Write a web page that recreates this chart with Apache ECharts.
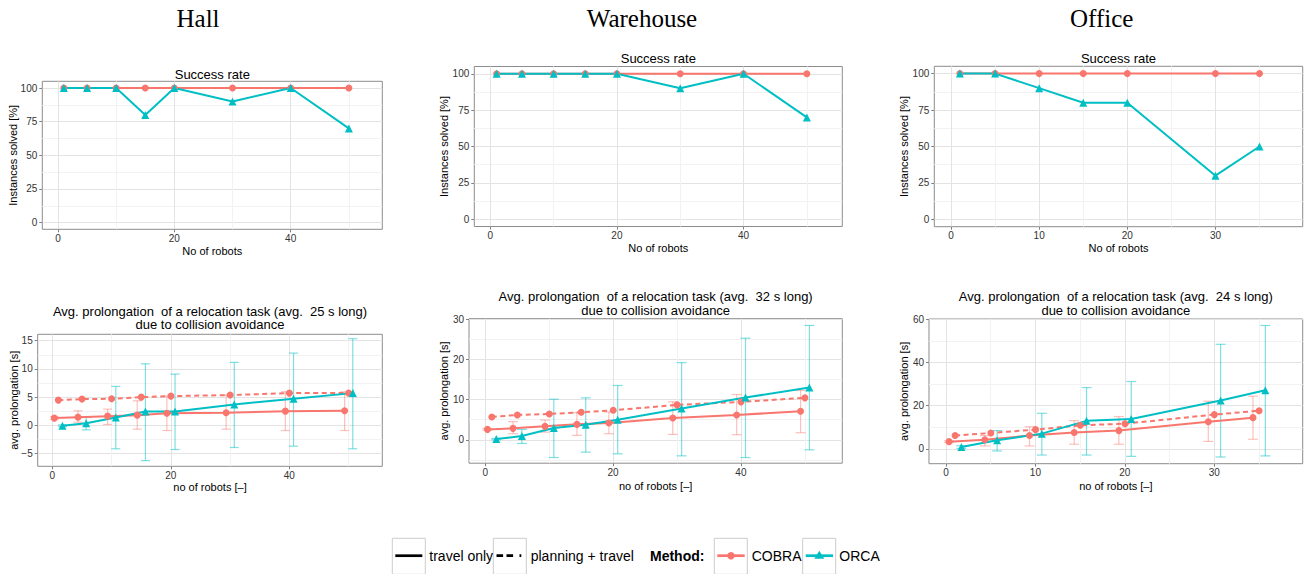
<!DOCTYPE html>
<html><head><meta charset="utf-8">
<script src="https://cdn.jsdelivr.net/npm/echarts@6/dist/echarts.min.js"></script>
<style>html,body{margin:0;padding:0;background:#fff}#c{width:1314px;height:574px}</style>
</head><body><div id="c"></div>
<script>
// ---------- data ----------
const robotsHall = [1, 5, 10, 15, 20, 30, 40, 50];
const robotsWarehouse = [1, 5, 10, 15, 20, 30, 40, 50];
const robotsOffice = [1, 5, 10, 15, 20, 30, 35];

const successCobraHall = [100, 100, 100, 100, 100, 100, 100, 100];
const successOrcaHall = [100, 100, 100, 80, 100, 90, 100, 70];
const successCobraWarehouse = [100, 100, 100, 100, 100, 100, 100, 100];
const successOrcaWarehouse = [100, 100, 100, 100, 100, 90, 100, 70];
const successCobraOffice = [100, 100, 100, 100, 100, 100, 100];
const successOrcaOffice = [100, 100, 90, 80, 80, 30, 50];

const travelCobraHall = [1.25, 1.42, 1.6, 1.78, 2.13, 2.2, 2.49, 2.55];
const planCobraHall = [4.45, 4.63, 4.69, 4.98, 5.16, 5.34, 5.69, 5.69];
const travelOrcaHall = [-0.1, 0.35, 1.36, 2.43, 2.43, 3.68, 4.69, 5.69];
const travelCobraHallLow = [1.0, 0.53, 0.12, -0.71, -0.95, -0.71, -0.95, -0.95];
const travelCobraHallHigh = [1.5, 2.55, 2.85, 4.33, 5.16, 5.34, 5.93, 5.93];
const travelOrcaHallLow = [-0.25, -0.83, -4.2, -6.3, -4.33, -3.97, -3.74, -4.2];
const travelOrcaHallHigh = [0.05, 1.4, 6.88, 10.9, 9.07, 11.15, 12.8, 15.36];

const travelCobraWarehouse = [2.58, 2.83, 3.33, 3.83, 4.17, 5.42, 6.17, 7.08];
const planCobraWarehouse = [5.67, 6.17, 6.42, 6.83, 7.33, 8.67, 9.42, 10.42];
const travelOrcaWarehouse = [0.17, 0.92, 2.92, 3.75, 5.0, 7.75, 10.5, 13.0];
const travelCobraWarehouseLow = [2.4, 1.5, 1.9, 1.08, 1.5, 1.33, 1.25, 1.75];
const travelCobraWarehouseHigh = [2.8, 4.5, 4.9, 6.75, 6.9, 9.42, 11.25, 12.25];
const travelOrcaWarehouseLow = [0.0, -0.92, -4.42, -3.08, -3.5, -4.0, -4.42, -2.5];
const travelOrcaWarehouseHigh = [0.3, 2.58, 10.08, 10.42, 13.5, 19.17, 25.25, 28.42];

const travelCobraOffice = [3.4, 4.3, 6.2, 7.6, 8.5, 12.6, 14.5];
const planCobraOffice = [6.2, 7.4, 8.95, 10.95, 11.7, 15.9, 17.7];
const travelOrcaOffice = [0.9, 4.0, 7.1, 13.0, 13.9, 22.4, 27.2];
const travelCobraOfficeLow = [3.0, 1.4, 1.4, 2.2, 2.2, 3.5, 4.5];
const travelCobraOfficeHigh = [3.8, 6.2, 10.3, 13.1, 15.0, 22.1, 24.4];
const travelOrcaOfficeLow = [0.3, -0.9, -2.8, -2.8, -3.4, -3.7, -3.2];
const travelOrcaOfficeHigh = [1.5, 8.5, 16.5, 28.4, 31.2, 48.4, 57.1];

// tick labels
const successTicks = [0, 25, 50, 75, 100];
const successMinorTicks = [12.5, 37.5, 62.5, 87.5];
const robotTicks50 = [0, 20, 40];
const robotMinorTicks50 = [10, 30, 50];
const robotTicks35 = [0, 10, 20, 30];
const robotMinorTicks35 = [5, 15, 25, 35];
const hallProlongTicks = [-5, 0, 5, 10, 15];
const hallProlongMinorTicks = [-2.5, 2.5, 7.5, 12.5];
const warehouseProlongTicks = [0, 10, 20, 30];
const warehouseProlongMinorTicks = [-5, 5, 15, 25];
const officeProlongTicks = [0, 20, 40, 60];
const officeProlongMinorTicks = [10, 30, 50];

const columnTitles = ['Hall', 'Warehouse', 'Office'];
const legendLabels = ['travel only', 'planning + travel', 'Method:', 'COBRA', 'ORCA'];

// ---------- styling / layout ----------
const C_COBRA = '#F8766D', C_ORCA = '#00BFC4';
const C_COBRA_BAR = 'rgba(248,118,109,0.45)', C_ORCA_BAR = 'rgba(0,191,196,0.5)';
const SANS = '"Liberation Sans", Arial, sans-serif';
const DODGE_TRAVEL_COBRA = -0.66, DODGE_PLAN = 0.02, DODGE_ORCA = 0.72;

const panels = [
  {kind: 'success', grid: {left: 42.3, top: 81.3, width: 340, height: 148}, x: [-2.7, 55.75], y: [-5, 105],
   xt: robotTicks50, xm: robotMinorTicks50, yt: successTicks, ym: successMinorTicks,
   robots: robotsHall, cobra: successCobraHall, orca: successOrcaHall,
   title: ['Success rate'], titleY: [74], xName: 'No of robots', xNameY: 250.7, yName: 'Instances solved [%]', yNameX: 13.3},
  {kind: 'prolong', grid: {left: 37.7, top: 334.3, width: 344.6, height: 132}, x: [-2.46, 55.7], y: [-7.31, 16.14],
   xt: robotTicks50, xm: robotMinorTicks50, yt: hallProlongTicks, ym: hallProlongMinorTicks,
   robots: robotsHall, ct: travelCobraHall, cp: planCobraHall, ot: travelOrcaHall,
   cl: travelCobraHallLow, ch: travelCobraHallHigh, ol: travelOrcaHallLow, oh: travelOrcaHallHigh, cap: 4.5,
   title: ['Avg. prolongation\u00a0 of a relocation task (avg.\u00a0 25 s long)', 'due to collision avoidance'], titleY: [311, 324.3],
   xName: 'no of robots [\u2013]', xNameY: 487.3, yName: 'avg. prolongation [s]', yNameX: 14.2},
  {kind: 'success', grid: {left: 474.3, top: 66.5, width: 368, height: 160}, x: [-2.53, 55.6], y: [-5, 105],
   xt: robotTicks50, xm: robotMinorTicks50, yt: successTicks, ym: successMinorTicks,
   robots: robotsWarehouse, cobra: successCobraWarehouse, orca: successOrcaWarehouse,
   title: ['Success rate'], titleY: [58.3], xName: 'No of robots', xNameY: 248.3, yName: 'Instances solved [%]', yNameX: 444.2},
  {kind: 'prolong', grid: {left: 469, top: 318.7, width: 373.3, height: 144.5}, x: [-2.55, 55.87], y: [-5.83, 30.1],
   xt: robotTicks50, xm: robotMinorTicks50, yt: warehouseProlongTicks, ym: warehouseProlongMinorTicks,
   robots: robotsWarehouse, ct: travelCobraWarehouse, cp: planCobraWarehouse, ot: travelOrcaWarehouse,
   cl: travelCobraWarehouseLow, ch: travelCobraWarehouseHigh, ol: travelOrcaWarehouseLow, oh: travelOrcaWarehouseHigh, cap: 5,
   title: ['Avg. prolongation\u00a0 of a relocation task (avg.\u00a0 32 s long)', 'due to collision avoidance'], titleY: [296.7, 310],
   xName: 'no of robots [\u2013]', xNameY: 486.3, yName: 'avg. prolongation [s]', yNameX: 444},
  {kind: 'success', grid: {left: 934.3, top: 66.3, width: 368.4, height: 160.4}, x: [-1.9, 39.9], y: [-5, 105],
   xt: robotTicks35, xm: robotMinorTicks35, yt: successTicks, ym: successMinorTicks,
   robots: robotsOffice, cobra: successCobraOffice, orca: successOrcaOffice,
   title: ['Success rate'], titleY: [58], xName: 'No of robots', xNameY: 248.3, yName: 'Instances solved [%]', yNameX: 904.2},
  {kind: 'prolong', grid: {left: 929, top: 319, width: 373.7, height: 144.7}, x: [-1.9, 39.9], y: [-6.8, 60.1],
   xt: robotTicks35, xm: robotMinorTicks35, yt: officeProlongTicks, ym: officeProlongMinorTicks,
   robots: robotsOffice, ct: travelCobraOffice, cp: planCobraOffice, ot: travelOrcaOffice,
   cl: travelCobraOfficeLow, ch: travelCobraOfficeHigh, ol: travelOrcaOfficeLow, oh: travelOrcaOfficeHigh, cap: 5,
   title: ['Avg. prolongation\u00a0 of a relocation task (avg.\u00a0 24 s long)', 'due to collision avoidance'], titleY: [296.7, 310],
   xName: 'no of robots [\u2013]', xNameY: 486.3, yName: 'avg. prolongation [s]', yNameX: 904}
];
const columnTitleX = [198, 642, 1101.7];

// ---------- build option ----------
const grids = [], xAxes = [], yAxes = [], series = [], graphics = [];
const minusFmt = v => String(v).replace('-', '\u2212');

function txt(x, y, text, font, opt) {
  opt = opt || {};
  const align = opt.align || 'center', va = opt.va || 'middle';
  return {type: 'text', x: x, y: y, rotation: opt.rot || 0, silent: true, z: 100,
    style: {text: text, font: font, fill: opt.fill || '#000', align: align, verticalAlign: va,
      textAlign: align, textVerticalAlign: va}};
}

panels.forEach((p, gi) => {
  grids.push(Object.assign({show: true, borderColor: '#8c8c8c', borderWidth: 1, backgroundColor: '#fff',
    containLabel: false, outerBoundsMode: 'none'}, p.grid));
  // minor axes (grid lines only)
  xAxes.push({type: 'value', gridIndex: gi, position: 'top', min: p.x[0], max: p.x[1],
    axisLine: {show: false, onZero: false}, axisLabel: {show: false}, axisTick: {show: false, customValues: p.xm},
    splitLine: {show: true, lineStyle: {color: '#f2f2f2', width: 1}}});
  yAxes.push({type: 'value', gridIndex: gi, position: 'right', min: p.y[0], max: p.y[1],
    axisLine: {show: false, onZero: false}, axisLabel: {show: false}, axisTick: {show: false, customValues: p.ym},
    splitLine: {show: true, lineStyle: {color: '#f2f2f2', width: 1}}});
  // major axes
  xAxes.push({type: 'value', gridIndex: gi, position: 'bottom', min: p.x[0], max: p.x[1],
    axisLine: {show: false, onZero: false},
    axisTick: {show: true, length: 3, customValues: p.xt, lineStyle: {color: '#7f7f7f'}},
    axisLabel: {show: true, customValues: p.xt, margin: 4, fontSize: 10, fontFamily: SANS, color: '#333', formatter: minusFmt},
    splitLine: {show: true, lineStyle: {color: '#e3e3e3', width: 1}}});
  yAxes.push({type: 'value', gridIndex: gi, position: 'left', min: p.y[0], max: p.y[1],
    axisLine: {show: false, onZero: false},
    axisTick: {show: true, length: 3, customValues: p.yt, lineStyle: {color: '#7f7f7f'}},
    axisLabel: {show: true, customValues: p.yt, margin: 5, fontSize: 10, fontFamily: SANS, color: '#333', formatter: minusFmt},
    splitLine: {show: true, lineStyle: {color: '#e3e3e3', width: 1}}});
  const xi = gi * 2 + 1, yi = gi * 2 + 1;

  const line = (name, xs, ys, color, symbol, size, dashed, dx) => ({
    type: 'line', name: name, xAxisIndex: xi, yAxisIndex: yi, animation: false,
    data: xs.map((x, i) => [x + dx, ys[i]]),
    symbol: symbol, symbolSize: size, showSymbol: true,
    itemStyle: {color: color}, clip: false,
    lineStyle: {color: color, width: 2, type: dashed ? [5, 3.5] : 'solid'}, z: 3
  });
  const bars = (xs, lo, hi, color, dx, cap) => ({
    type: 'custom', xAxisIndex: xi, yAxisIndex: yi, animation: false, z: 2,
    data: xs.map((x, i) => [x + dx, lo[i], hi[i]]),
    encode: {x: 0, y: [1, 2]},
    renderItem: (params, api) => {
      const a = api.coord([api.value(0), api.value(1)]);
      const b = api.coord([api.value(0), api.value(2)]);
      const st = {stroke: color, lineWidth: 1.2, fill: null};
      return {type: 'group', children: [
        {type: 'line', shape: {x1: a[0], y1: a[1], x2: b[0], y2: b[1]}, style: st},
        {type: 'line', shape: {x1: a[0] - cap, y1: a[1], x2: a[0] + cap, y2: a[1]}, style: st},
        {type: 'line', shape: {x1: b[0] - cap, y1: b[1], x2: b[0] + cap, y2: b[1]}, style: st}
      ]};
    }
  });

  if (p.kind === 'success') {
    series.push(line('COBRA', p.robots, p.cobra, C_COBRA, 'circle', 7, false, 0));
    series.push(line('ORCA', p.robots, p.orca, C_ORCA, 'triangle', 8, false, 0));
  } else {
    series.push(bars(p.robots, p.cl, p.ch, C_COBRA_BAR, DODGE_TRAVEL_COBRA, p.cap));
    series.push(bars(p.robots, p.ol, p.oh, C_ORCA_BAR, DODGE_ORCA, p.cap));
    series.push(line('COBRA travel only', p.robots, p.ct, C_COBRA, 'circle', 7, false, DODGE_TRAVEL_COBRA));
    series.push(line('COBRA planning + travel', p.robots, p.cp, C_COBRA, 'circle', 7, true, DODGE_PLAN));
    series.push(line('ORCA travel only', p.robots, p.ot, C_ORCA, 'triangle', 8, false, DODGE_ORCA));
  }

  const cx = p.grid.left + p.grid.width / 2;
  const cy = p.grid.top + p.grid.height / 2;
  p.title.forEach((t, k) => graphics.push(txt(cx, p.titleY[k], t, '13px ' + SANS)));
  graphics.push(txt(cx, p.xNameY, p.xName, '11px ' + SANS));
  graphics.push(txt(p.yNameX, cy, p.yName, '11px ' + SANS, {rot: Math.PI / 2}));
});

columnTitles.forEach((t, i) => graphics.push(txt(columnTitleX[i], 18.5, t, '25px "Liberation Serif", "Times New Roman", serif')));

// legend (drawn as graphic keys)
const LY = 555.7, keyTop = 538.3, keyH = 36;
const keys = [{x: 392.3}, {x: 493.3}, {x: 714.3}, {x: 802.7}];
keys.forEach(k => graphics.push({type: 'rect', silent: true, z: 90,
  shape: {x: k.x, y: keyTop, width: 33, height: keyH}, style: {fill: '#fff', stroke: '#cccccc', lineWidth: 1}}));
graphics.push({type: 'line', silent: true, z: 91, shape: {x1: 395.3, y1: LY, x2: 422.3, y2: LY}, style: {stroke: '#000', lineWidth: 2.7}});
graphics.push({type: 'line', silent: true, z: 91, shape: {x1: 496.5, y1: LY, x2: 522.5, y2: LY}, style: {stroke: '#000', lineWidth: 2.7, lineDash: [6.6, 3.4, 6.6, 6.4, 1.8, 6]}});
graphics.push({type: 'line', silent: true, z: 91, shape: {x1: 717.3, y1: LY, x2: 744.7, y2: LY}, style: {stroke: C_COBRA, lineWidth: 2.7}});
graphics.push({type: 'circle', silent: true, z: 92, shape: {cx: 731, cy: LY, r: 3.7}, style: {fill: C_COBRA}});
graphics.push({type: 'line', silent: true, z: 91, shape: {x1: 805.7, y1: LY, x2: 833, y2: LY}, style: {stroke: C_ORCA, lineWidth: 2.7}});
graphics.push({type: 'polygon', silent: true, z: 92, shape: {points: [[819.3, LY - 5], [824.3, LY + 3], [814.3, LY + 3]]}, style: {fill: C_ORCA}});
const legFont = '14px ' + SANS;
graphics.push(txt(429.3, LY, legendLabels[0], legFont, {align: 'left'}));
graphics.push(txt(530.7, LY, legendLabels[1], legFont, {align: 'left'}));
graphics.push(txt(650, LY, legendLabels[2], 'bold 14px ' + SANS, {align: 'left'}));
graphics.push(txt(751.7, LY, legendLabels[3], legFont, {align: 'left'}));
graphics.push(txt(839.3, LY, legendLabels[4], legFont, {align: 'left'}));

const chart = echarts.init(document.getElementById('c'), null, {renderer: 'svg', width: 1314, height: 574});
chart.setOption({
  backgroundColor: '#fff', animation: false,
  grid: grids, xAxis: xAxes, yAxis: yAxes, series: series, graphic: graphics
});
</script></body></html>
